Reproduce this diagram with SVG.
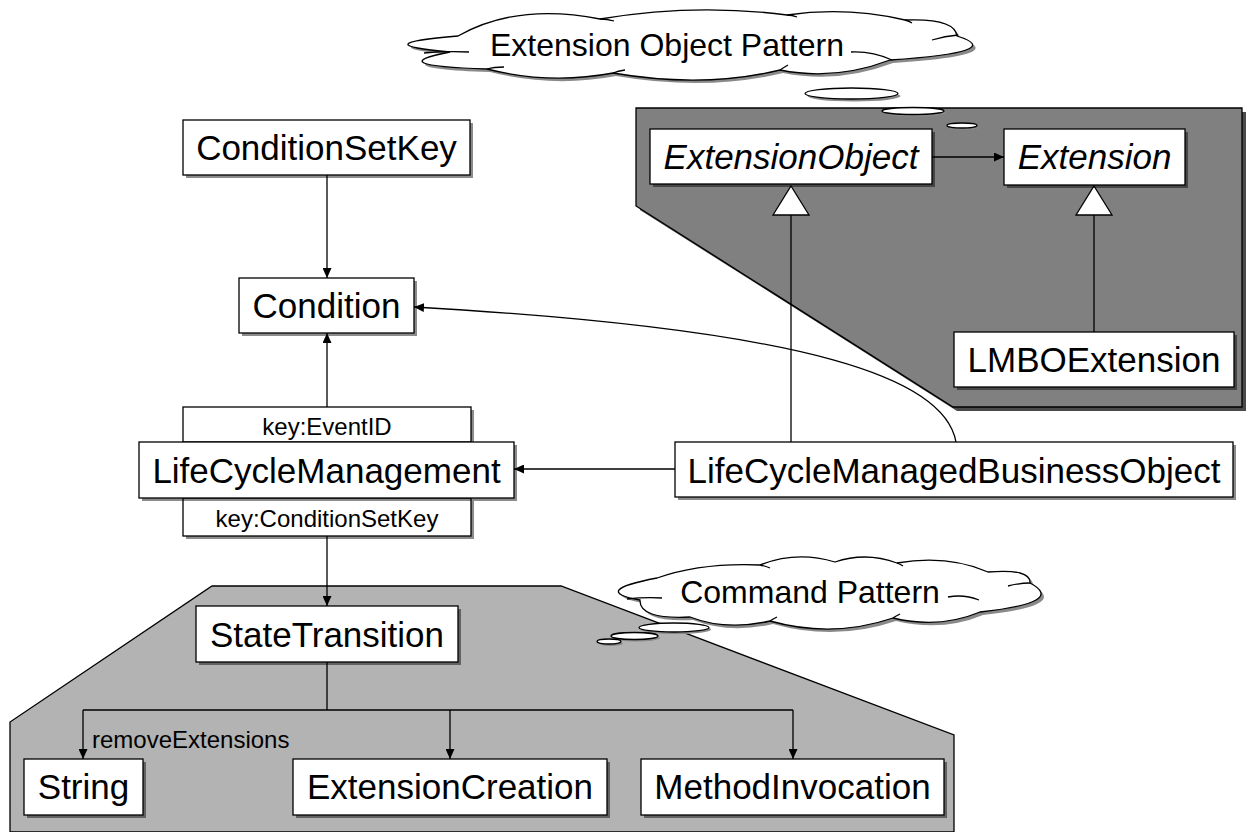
<svg xmlns="http://www.w3.org/2000/svg" width="1247" height="832" viewBox="0 0 1247 832">
<defs>
<marker id="arr" markerUnits="userSpaceOnUse" markerWidth="11" markerHeight="9" refX="10" refY="4.5" orient="auto">
<path d="M0,0 L10,4.5 L0,9 z" fill="#000"/>
</marker>
<style>
.box{fill:#fff;stroke:#000;stroke-width:1.3}
.sh{fill:#000;fill-opacity:0.45}
.t{font-family:"Liberation Sans",Arial,sans-serif;font-size:35px;fill:#000;text-anchor:middle}
.it{font-style:italic}
.s{font-family:"Liberation Sans",Arial,sans-serif;font-size:24px;fill:#000}
.c{font-family:"Liberation Sans",Arial,sans-serif;font-size:32px;fill:#000;text-anchor:middle}
.ln{fill:none;stroke:#000;stroke-width:1.3}
.cl{fill:#fff;stroke:#000;stroke-width:1.3}
.cls{fill:#8a8a8a}
.curl{fill:none;stroke:#000;stroke-width:1.3}
</style>
</defs>
<rect width="1247" height="832" fill="#fff"/>

<g id="extension-region">
<polygon points="640,112 1246,112 1246,411 957,411 640,210" fill="#4a4a4a"/>
<polygon points="636,108 1242,108 1242,407 953,407 636,206" fill="#808080" stroke="#000" stroke-width="1.3"/>
</g>

<g id="command-region">
<polygon points="212,586 561,586 954,735 954,832 10,832 10,722" fill="#b3b3b3" stroke="#000" stroke-width="1.3"/>
</g>

<g id="cloud-extension">
<g transform="translate(3,3)">
<path class="cls" d="M458,36 Q517,2.5 600,19 Q694.5,3 787,15 Q846,6.5 905,20 Q955,18 957,36 Q1008.5,52 890,60 Q835,81 780,70 Q703.5,88.5 613,73 Q550,85 487,69 Q379.5,65.5 450,52 Q362,44 458,36 Z"/>
</g>
<path class="cl" d="M458,36 Q517,2.5 600,19 Q694.5,3 787,15 Q846,6.5 905,20 Q955,18 957,36 Q1008.5,52 890,60 Q835,81 780,70 Q703.5,88.5 613,73 Q550,85 487,69 Q379.5,65.5 450,52 Q362,44 458,36 Z"/>
<path class="curl" d="M424,53 Q445,51 469,52 M932,40 Q945,36 958,35 M851,52 Q872,51 892,60 M600,19 Q607,19 614,21 M787,15 Q792,15 797,17 M905,20 Q909,21 912,23 M780,70 Q783,68 788,65 M613,73 Q618,71 625,70 M487,69 Q494,67 504,67"/>
<text class="c" x="667" y="56">Extension Object Pattern</text>
<ellipse cx="854" cy="96" rx="46.5" ry="5.5" class="cls"/>
<ellipse cx="851.5" cy="93.5" rx="46.5" ry="5.5" class="cl"/>
</g>

<g id="connectors">
<path class="ln" d="M327,175 L327,278" marker-end="url(#arr)"/>
<path class="ln" d="M327,407 L327,333" marker-end="url(#arr)"/>
<path class="ln" d="M956,442 C945,380 820,330 414,307" marker-end="url(#arr)"/>
<path class="ln" d="M675,469 L514,469" marker-end="url(#arr)"/>
<path class="ln" d="M932,157 L1004,157" marker-end="url(#arr)"/>
<path class="ln" d="M791,442 L791,215"/>
<polygon points="791,186 809,215 773,215" fill="#fff" stroke="#000" stroke-width="1.3"/>
<path class="ln" d="M1094,332 L1094,215"/>
<polygon points="1094,186 1112,215 1076,215" fill="#fff" stroke="#000" stroke-width="1.3"/>
<path class="ln" d="M327,536 L327,606" marker-end="url(#arr)"/>
<path class="ln" d="M327,662 L327,710 M83,710 L793,710"/>
<path class="ln" d="M83,710 L83,759" marker-end="url(#arr)"/>
<path class="ln" d="M450,710 L450,759" marker-end="url(#arr)"/>
<path class="ln" d="M793,710 L793,759" marker-end="url(#arr)"/>
<text class="s" x="92" y="748">removeExtensions</text>
</g>

<g id="ext-bubbles">
<ellipse cx="915" cy="113" rx="31" ry="3.5" class="cls"/>
<ellipse cx="913" cy="111" rx="31" ry="3.5" class="cl"/>
<ellipse cx="964" cy="127.5" rx="15" ry="2.5" class="cls"/>
<ellipse cx="962" cy="125.5" rx="15" ry="2.5" class="cl"/>
</g>

<g id="cloud-command">
<g transform="translate(3,3)">
<path class="cls" d="M657,578 Q701.5,562.5 760,565 Q796.5,550.5 835,562 Q866,551.5 897,563 Q947.5,554.5 988,572 Q1031,568.5 1030,583 Q1067,602.5 980,612 Q939.5,629 893,618 Q832.5,638.5 770,621 Q726,631 690,617 Q639,619.5 640,600 Q589.5,591 657,578 Z"/>
</g>
<path class="cl" d="M657,578 Q701.5,562.5 760,565 Q796.5,550.5 835,562 Q866,551.5 897,563 Q947.5,554.5 988,572 Q1031,568.5 1030,583 Q1067,602.5 980,612 Q939.5,629 893,618 Q832.5,638.5 770,621 Q726,631 690,617 Q639,619.5 640,600 Q589.5,591 657,578 Z"/>
<path class="curl" d="M627,599 Q645,597 662,598 M948,597 Q964,594 979,600 M1008,586 Q1020,583 1030,583 M760,565 Q765,566 770,568 M897,563 Q900,564 903,566 M893,618 Q896,616 900,614 M770,621 Q773,619 777,617"/>
<text class="c" x="810" y="603">Command Pattern</text>
<ellipse cx="676" cy="629.5" rx="35" ry="4.5" class="cls"/>
<ellipse cx="674" cy="627.5" rx="35" ry="4.5" class="cl"/>
<ellipse cx="636.5" cy="638" rx="23.5" ry="3.5" class="cls"/>
<ellipse cx="634.5" cy="636" rx="23.5" ry="3.5" class="cl"/>
<ellipse cx="611" cy="643.5" rx="12" ry="2.5" class="cls"/>
<ellipse cx="609" cy="641.5" rx="12" ry="2.5" class="cl"/>
</g>

<g id="node-conditionsetkey">
<rect class="sh" x="186" y="123" width="287" height="55"/>
<rect class="box" x="183" y="120" width="287" height="55"/>
<text class="t" x="326.5" y="160">ConditionSetKey</text>
</g>
<g id="node-condition">
<rect class="sh" x="242" y="281" width="175" height="55"/>
<rect class="box" x="239" y="278" width="175" height="55"/>
<text class="t" x="326.5" y="318">Condition</text>
</g>
<g id="node-lifecyclemanagement">
<rect class="sh" x="186" y="410" width="288" height="35"/>
<rect class="box" x="183" y="407" width="288" height="35"/>
<rect class="sh" x="186" y="501" width="288" height="38"/>
<rect class="box" x="183" y="498" width="288" height="38"/>
<rect class="sh" x="142" y="445" width="375" height="56"/>
<rect class="box" x="139" y="442" width="375" height="56"/>
<text class="s" x="327" y="435" text-anchor="middle">key:EventID</text>
<text class="t" x="326.5" y="483">LifeCycleManagement</text>
<text class="s" x="327" y="527" text-anchor="middle">key:ConditionSetKey</text>
</g>
<g id="node-lcmbo">
<rect class="sh" x="678" y="445" width="558" height="55"/>
<rect class="box" x="675" y="442" width="558" height="55"/>
<text class="t" x="954" y="483">LifeCycleManagedBusinessObject</text>
</g>
<g id="node-extensionobject">
<rect class="sh" x="653" y="132" width="282" height="55"/>
<rect class="box" x="650" y="129" width="282" height="55"/>
<text class="t it" x="791" y="169">ExtensionObject</text>
</g>
<g id="node-extension">
<rect class="sh" x="1007" y="132" width="181" height="56"/>
<rect class="box" x="1004" y="129" width="181" height="56"/>
<text class="t it" x="1094.5" y="169">Extension</text>
</g>
<g id="node-lmboextension">
<rect class="sh" x="957" y="335" width="280" height="55"/>
<rect class="box" x="954" y="332" width="280" height="55"/>
<text class="t" x="1094" y="372">LMBOExtension</text>
</g>
<g id="node-statetransition">
<rect class="sh" x="199" y="609" width="262" height="56"/>
<rect class="box" x="196" y="606" width="262" height="56"/>
<text class="t" x="327" y="647">StateTransition</text>
</g>
<g id="node-string">
<rect class="sh" x="27" y="762" width="119" height="56"/>
<rect class="box" x="24" y="759" width="119" height="56"/>
<text class="t" x="83.5" y="799">String</text>
</g>
<g id="node-extensioncreation">
<rect class="sh" x="296" y="762" width="314" height="56"/>
<rect class="box" x="293" y="759" width="314" height="56"/>
<text class="t" x="450" y="799">ExtensionCreation</text>
</g>
<g id="node-methodinvocation">
<rect class="sh" x="644" y="762" width="303" height="56"/>
<rect class="box" x="641" y="759" width="303" height="56"/>
<text class="t" x="792.5" y="799">MethodInvocation</text>
</g>
</svg>
